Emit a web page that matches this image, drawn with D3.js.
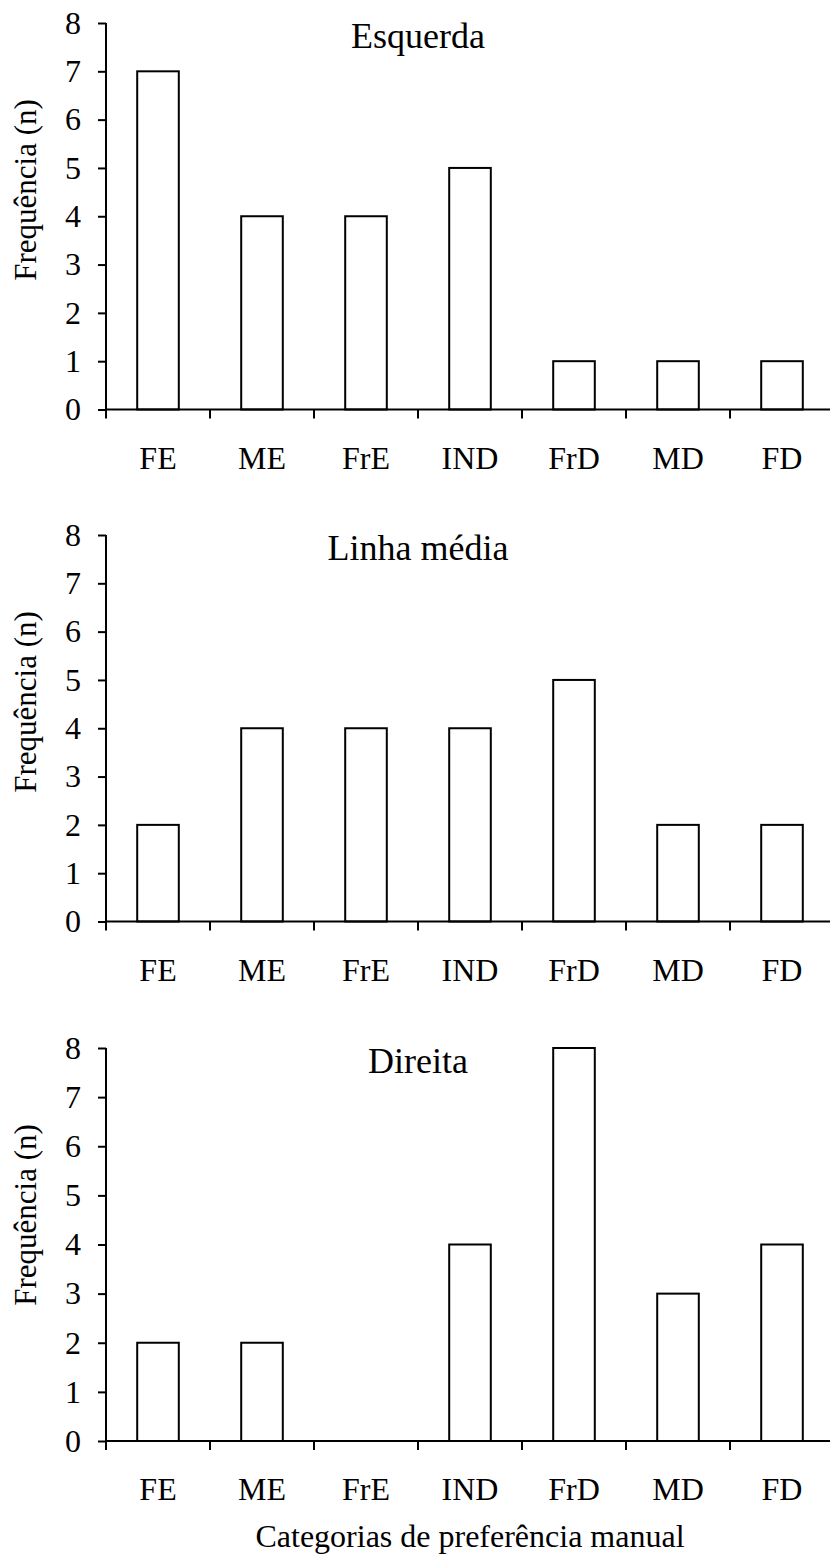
<!DOCTYPE html>
<html lang="pt">
<head>
<meta charset="UTF-8">
<title>Preferência manual</title>
<script src="https://d3js.org/d3.v7.min.js"></script>
<style>
    body { margin: 0; background: white; }
    svg { display: block; }
    text { font-family: "Liberation Serif", "Times New Roman", serif; fill: black; }
</style>
</head>
<body>
<svg id="canvas" width="830" height="1561"></svg>
<script>
// data
const categories = ["FE", "ME", "FrE", "IND", "FrD", "MD", "FD"]
const panelTitles = ["Esquerda", "Linha média", "Direita"]
const esquerda = [7, 4, 4, 5, 1, 1, 1]
const linhaMedia = [2, 4, 4, 4, 5, 2, 2]
const direita = [2, 2, 0, 4, 8, 3, 4]
const yTicks = [0, 1, 2, 3, 4, 5, 6, 7, 8]

const series = [esquerda, linhaMedia, direita]

// vertical placement of each panel (value 8 -> top, value 0 -> bottom)
const panelTop = [23, 535, 1048]
const panelBottom = [409.5, 921.5, 1441]

const serif = "'Liberation Serif', 'Times New Roman', serif"

const svg = d3.select("#canvas")

const x = d3.scaleBand()
    .domain(categories)
    .range([106, 834])

series.forEach((values, i) => {
    let y = d3.scaleLinear()
        .domain([0, 8])
        .range([panelBottom[i], panelTop[i]])

    let g = svg.append("g")

    // bars (zero values draw nothing)
    g.selectAll("rect")
        .data(values.map((v, j) => ({cat: categories[j], v: v})).filter(d => d.v > 0))
        .enter()
        .append("rect")
        .attr("x", d => x(d.cat) + x.bandwidth() * 0.3)
        .attr("width", x.bandwidth() * 0.4)
        .attr("y", d => y(d.v))
        .attr("height", d => y(0) - y(d.v))
        .attr("fill", "white")
        .attr("stroke", "black")
        .attr("stroke-width", 2)

    // y axis
    let yAxis = g.append("g")
        .attr("transform", "translate(106,0)")
        .call(d3.axisLeft(y).tickValues(yTicks).tickFormat(d3.format("d")).tickSize(8).tickPadding(17))
    yAxis.attr("font-family", serif).attr("font-size", 32)
    yAxis.select(".domain").attr("stroke-width", 2).attr("d", "M0," + y(8) + "V" + y(0))
    yAxis.selectAll(".tick line").attr("stroke-width", 2)

    // x axis: ticks sit between the categories
    let xAxis = g.append("g")
        .attr("transform", "translate(0," + y(0) + ")")
    xAxis.append("line")
        .attr("x1", 106).attr("x2", 834)
        .attr("stroke", "black").attr("stroke-width", 2)
    xAxis.selectAll(".sep")
        .data(categories.concat(["end"]))
        .enter()
        .append("line")
        .attr("x1", (d, j) => j < categories.length ? x(d) : x.range()[1])
        .attr("x2", (d, j) => j < categories.length ? x(d) : x.range()[1])
        .attr("y1", 0).attr("y2", 9)
        .attr("stroke", "black").attr("stroke-width", 2)
    xAxis.selectAll(".cat")
        .data(categories)
        .enter()
        .append("text")
        .attr("x", d => x(d) + x.bandwidth() / 2)
        .attr("y", 59)
        .attr("text-anchor", "middle")
        .attr("font-size", 32)
        .text(d => d)

    // panel title
    g.append("text")
        .attr("x", 418)
        .attr("y", panelTop[i] + 25)
        .attr("text-anchor", "middle")
        .attr("font-size", 36)
        .text(panelTitles[i])

    // y label
    g.append("text")
        .attr("transform", "translate(36," + (panelTop[i] + 167) + ") rotate(-90)")
        .attr("text-anchor", "middle")
        .attr("font-size", 31)
        .text("Frequência (n)")
})

svg.append("text")
    .attr("x", 470)
    .attr("y", 1547)
    .attr("text-anchor", "middle")
    .attr("font-size", 32)
    .text("Categorias de preferência manual")
</script>
</body>
</html>
